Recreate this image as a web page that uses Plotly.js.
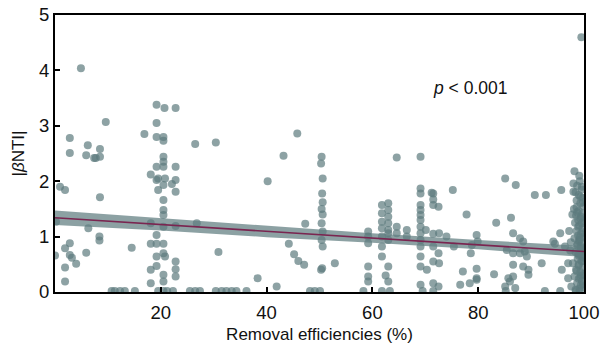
<!DOCTYPE html>
<html>
<head>
<meta charset="utf-8">
<script src="https://cdn.plot.ly/plotly-3.0.1.min.js"></script>
<style>html,body{margin:0;padding:0;background:#fff;}#chart{width:601px;height:350px;}</style>
</head>
<body>
<div id="chart"></div>
<script>
// ---- data ----
// low removal efficiencies (0-17 %)
var lowX = [4.9,2.8,2.8,6.2,5.9,8.5,8.5,7.4,9.6,0.95,1.9,8.5,0.2,6.3,8.4,8.4,14.5,2.8,1.9,2.8,3.2,4.0,1.9,5.9,0.0,1.9,16.9,7.7];
var lowY = [4.04,2.78,2.51,2.65,2.47,2.58,2.44,2.42,3.07,1.90,1.84,1.71,1.27,1.15,1.00,0.93,0.80,0.88,0.79,0.67,0.62,0.51,0.44,0.71,0.66,0.19,2.85,2.42];
// around 20 %
var c20X = [19.2,20.7,22.8,19.2,19.2,20.5,20.5,20.5,20.5,20.5,19.2,18.1,19.5,20.8,19.2,20.5,19.5,22.8,22.8,22.1,22.8,20.5,20.5,20.5,18.1,20.5,22.8,19.2,18.1,19.2,20.5,20.5,19.2,20.8,18.1,19.2,20.5,20.5,18.1,22.8,22.8,22.8];
var c20Y = [3.38,3.32,3.32,3.05,2.80,2.80,2.73,2.44,2.35,2.26,2.26,2.12,2.05,2.05,2.02,1.93,1.84,2.26,2.02,1.95,1.81,1.66,1.48,1.39,1.24,1.18,1.19,1.03,0.87,0.87,0.87,0.70,0.64,0.64,0.40,0.47,0.31,0.19,0.16,0.55,0.41,0.28];
// 25-48 %
var midX = [26.5,30.4,45.8,43.2,40.2,26.8,47.3,30.9,44.2,45.2,46.0,47.1,38.3,41.9,52.9];
var midY = [2.67,2.70,2.86,2.46,2.00,1.24,1.23,0.72,0.87,0.68,0.56,0.49,0.25,0.10,0.52];
// around 50 %
var c50X = [50.4,50.3,50.6,50.5,50.6,50.4,50.6,50.4,50.6,50.4,50.6,50.5,50.3];
var c50Y = [2.44,2.32,2.05,1.78,1.62,1.50,1.40,1.24,1.09,0.94,0.82,0.43,0.40];
// 58-67 %
var c60X = [59.2,59.2,59.2,59.2,59.2,59.2,61.8,61.8,61.8,61.8,61.8,61.8,61.8,63.0,63.0,63.0,63.0,63.0,63.0,63.0,63.0,63.0,62.5,64.6,64.6,64.6,66.5,66.5];
var c60Y = [1.09,1.00,0.88,0.46,0.28,0.19,1.57,1.42,1.27,1.15,1.00,0.82,0.64,1.60,1.48,1.36,1.24,1.12,1.06,0.94,0.46,0.19,0.30,2.43,1.18,1.06,1.12,1.00];
// 69-76 %
var c70X = [69.1,69.1,69.1,69.1,69.1,69.1,69.1,69.1,69.1,69.1,69.1,69.1,69.1,69.1,70.1,71.5,71.5,72.5,71.5,72.6,71.5,72.5,71.5,72.6,70.3,71.5,72.5,71.2,71.5,75.2,75.4,74.0];
var c70Y = [2.44,1.87,1.78,1.57,1.48,1.39,1.30,1.18,1.06,0.94,0.82,0.64,0.46,0.13,1.12,1.78,1.57,1.54,1.05,1.06,0.82,0.70,0.55,0.52,0.40,0.16,0.10,1.79,1.67,1.84,0.82,1.00];
// 76-97 %
var highX = [85.1,87.1,90.7,92.8,95.7,98.0,77.8,83.4,86.2,79.7,79.9,78.6,77.1,79.7,76.6,78.4,79.7,83.0,85.7,86.6,86.6,87.9,88.5,85.4,86.6,87.9,88.8,89.2,86.6,88.5,89.5,92.0,94.2,95.5,95.8,89.5,85.1,86.0,87.0,78.8,79.7,94.5,96.4,97.0];
var highY = [2.05,1.93,1.75,1.75,1.84,1.81,1.40,1.25,1.34,1.03,0.91,0.70,0.37,0.42,0.13,0.16,0.25,0.32,0.25,0.28,1.06,0.97,0.91,0.76,0.70,0.70,0.73,0.64,0.49,0.46,0.40,0.52,0.91,1.06,0.40,0.31,0.10,0.19,0.07,0.85,0.22,0.87,0.82,0.52];
// around 100 %
var c100X = [99.5,98.2,99.2,98.0,98.7,99.6,98.4,99.0,99.8,98.6,99.3,99.9,98.1,99.0,99.7,98.5,99.3,99.9,98.3,99.1,99.7,98.6,99.4,99.9,98.2,99.0,99.6,98.7,99.4,99.9,98.4,99.1,99.7,98.8,99.5,97.9,99.0,99.8,98.5,99.3,99.9,98.2,99.0,99.6,98.7,99.4,99.9,98.4,99.2,97.6,97.0,97.4,97.2,97.8,97.5,99.3,99.6,98.9,98.9,99.5,
             99.1,99.8,98.6,99.4,98.9,99.7,99.2,98.8,99.5,99.9,99.0,98.6,99.3,99.8,99.1,98.7,99.6,99.2,98.9,99.7,99.4,99.0];
var c100Y = [4.60,2.18,2.00,1.96,1.92,1.85,1.80,1.75,1.70,1.65,1.60,1.55,1.50,1.46,1.42,1.38,1.33,1.28,1.25,1.20,1.15,1.10,1.05,1.00,0.97,0.92,0.88,0.84,0.80,0.76,0.72,0.68,0.64,0.60,0.56,0.52,0.48,0.44,0.40,0.36,0.32,0.28,0.24,0.20,0.16,0.12,0.08,0.04,0.02,0.10,0.25,0.75,1.10,1.40,0.90,1.72,1.90,1.30,0.70,0.30,
             2.10,1.62,1.53,1.36,1.18,1.08,0.98,0.86,0.74,0.62,0.50,0.38,0.26,0.14,0.06,1.44,1.24,0.94,1.02,0.56,0.82,0.66];
// values at zero
var zeroX = [10.7,11.3,12.3,13.2,15.1,19.5,20.5,21.2,22.3,25.5,26.5,27.4,30.4,31.5,32.4,33.4,34.3,36.2,48.2,49.1,50.1,58.3,61.8,63.3,69.5,71.5,85.2,92.6,95.5,98.5];
var zeroY = [0.02,0.02,0.02,0.02,0.02,0.02,0.02,0.02,0.02,0.02,0.02,0.02,0.02,0.02,0.02,0.02,0.02,0.02,0.02,0.02,0.02,0.02,0.02,0.02,0.02,0.02,0.02,0.02,0.02,0.02];

// regression line and confidence band
var fitX = [0, 20, 40, 60, 80, 100];
var fitY = [1.34, 1.218, 1.096, 0.974, 0.852, 0.73];
var fitLo = [1.21, 1.11, 0.99, 0.89, 0.77, 0.63];
var fitHi = [1.47, 1.33, 1.19, 1.06, 0.94, 0.83];

var xTicks = [20, 40, 60, 80, 100];
var yTicks = [0, 1, 2, 3, 4, 5];

// ---- build traces ----
var allX = [].concat(lowX, c20X, midX, c50X, c60X, c70X, highX, c100X, zeroX);
var allY = [].concat(lowY, c20Y, midY, c50Y, c60Y, c70Y, highY, c100Y, zeroY);

var font = "Arial, 'Liberation Sans', Helvetica, sans-serif";

var traces = [
  {x: allX, y: allY, type: 'scatter', mode: 'markers', cliponaxis: true,
   marker: {size: 8, color: 'rgb(92,122,126)', opacity: 0.7, line: {width: 0}},
   hoverinfo: 'skip', showlegend: false},
  {x: fitX, y: fitLo, type: 'scatter', mode: 'lines', line: {width: 0, color: 'rgba(0,0,0,0)'},
   hoverinfo: 'skip', showlegend: false},
  {x: fitX, y: fitHi, type: 'scatter', mode: 'lines', fill: 'tonexty',
   fillcolor: 'rgba(95,125,128,0.72)', line: {width: 0, color: 'rgba(0,0,0,0)'},
   hoverinfo: 'skip', showlegend: false},
  {x: fitX, y: fitY, type: 'scatter', mode: 'lines', line: {width: 1.6, color: '#7a2550'},
   hoverinfo: 'skip', showlegend: false}
];

var axisCommon = {
  showline: true, linecolor: '#000', linewidth: 2, mirror: true,
  ticks: 'inside', ticklen: 5, tickwidth: 2, tickcolor: '#000',
  showgrid: false, zeroline: false,
  tickfont: {family: font, size: 18.5, color: '#111'}
};

var layout = {
  width: 601, height: 350,
  margin: {l: 55, r: 17, t: 15, b: 58},
  paper_bgcolor: '#fff', plot_bgcolor: '#fff',
  font: {family: font, color: '#111'},
  xaxis: Object.assign({}, axisCommon, {
    range: [0, 100], tickvals: xTicks, ticktext: xTicks.map(String), ticklabelstandoff: 3,
    title: {text: 'Removal efficiencies (%)', font: {family: font, size: 17, color: '#111'}, standoff: 6}
  }),
  yaxis: Object.assign({}, axisCommon, {
    range: [0, 5], tickvals: yTicks, ticktext: yTicks.map(String),
    title: {text: '|<i>β</i>NTI|', font: {family: font, size: 17, color: '#111'}, standoff: 10}
  }),
  annotations: [{
    x: 78.5, y: 3.68, xref: 'x', yref: 'y', showarrow: false,
    text: '<i>p</i> < 0.001', font: {family: font, size: 17.5, color: '#111'}
  }]
};

Plotly.newPlot('chart', traces, layout, {staticPlot: true, displayModeBar: false});
</script>
</body>
</html>
